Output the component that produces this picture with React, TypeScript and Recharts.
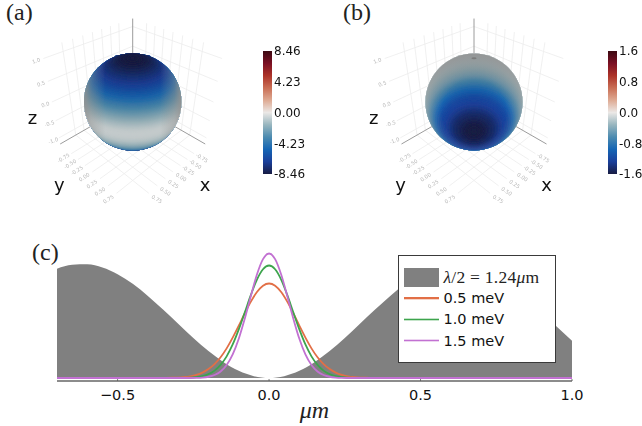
import React from 'react';
import { ComposedChart, Area, Line, Scatter, XAxis, YAxis, ReferenceLine, ReferenceArea, Legend, Label } from 'recharts';

// ---- panel (c) data
const trapX = [-0.7,-0.65,-0.6,-0.55,-0.5,-0.45,-0.4,-0.35,-0.3,-0.25,-0.2,-0.15,-0.1,-0.05,0,0.05,0.1,0.15,0.2,0.25,0.3,0.35,0.4,0.45,0.5,0.55,0.6,0.65,0.7,0.75,0.8,0.85,0.9,0.95,1.0];
const trapY = [0.959,0.994,0.997,0.969,0.91,0.826,0.72,0.6,0.475,0.35,0.236,0.138,0.063,0.016,0,0.016,0.063,0.138,0.236,0.35,0.475,0.6,0.72,0.826,0.91,0.969,0.997,0.994,0.959,0.895,0.806,0.697,0.576,0.449,0.326];
const peakX = [-0.7,-0.36,-0.34,-0.32,-0.3,-0.28,-0.26,-0.24,-0.22,-0.2,-0.18,-0.16,-0.14,-0.12,-0.1,-0.08,-0.06,-0.04,-0.02,0,0.02,0.04,0.06,0.08,0.1,0.12,0.14,0.16,0.18,0.2,0.22,0.24,0.26,0.28,0.3,0.32,0.34,0.36,1.0];
const orange05 = [0,0,0.001,0.002,0.004,0.008,0.015,0.027,0.047,0.078,0.122,0.182,0.26,0.354,0.459,0.568,0.67,0.754,0.81,0.829,0.81,0.754,0.67,0.568,0.459,0.354,0.26,0.182,0.122,0.078,0.047,0.027,0.015,0.008,0.004,0.002,0.001,0,0];
const green10 = [0,0,0,0,0,0.001,0.003,0.008,0.017,0.034,0.065,0.115,0.19,0.294,0.426,0.576,0.729,0.863,0.954,0.987,0.954,0.863,0.729,0.576,0.426,0.294,0.19,0.115,0.065,0.034,0.017,0.008,0.003,0.001,0,0,0,0,0];
const purple15 = [0,0,0,0,0,0,0,0.001,0.004,0.011,0.026,0.057,0.114,0.207,0.344,0.522,0.72,0.908,1.043,1.092,1.043,0.908,0.72,0.522,0.344,0.207,0.114,0.057,0.026,0.011,0.004,0.001,0,0,0,0,0,0,0];
const xTicks = [-0.5, 0, 0.5, 1];
const xTickLabels = ['\u22120.5', '0.0', '0.5', '1.0'];
const seriesNames = ['0.5 meV', '1.0 meV', '1.5 meV'];
const seriesColors = ['#e26f46', '#3da44d', '#c271d2'];

// ---- spheres: field read by angle (every 4 degrees) from the band centre
const fieldA = [-8.46,-8.46,-8.46,-8.42,-8.33,-8.21,-8.00,-7.75,-7.50,-7.22,-6.94,-6.64,-6.26,-5.84,-5.37,-4.86,-4.36,-3.89,-3.38,-2.92,-2.45,-1.99,-1.57,-1.18,-0.85,-0.59,-0.51,-0.51,-0.59,-0.76,-1.02,-1.35,-1.78,-2.28,-2.88,-3.55,-4.23,-5.08,-5.92,-6.60,-7.19,-7.61,-7.87,-8.04,-8.21,-8.29];
const fieldB = [-1.60,-1.60,-1.60,-1.58,-1.54,-1.50,-1.46,-1.39,-1.33,-1.28,-1.23,-1.17,-1.07,-0.96,-0.85,-0.74,-0.64,-0.54,-0.46,-0.40,-0.34,-0.29,-0.25,-0.22,-0.19,-0.18,-0.16,-0.14,-0.13,-0.12,-0.12,-0.11,-0.11,-0.11,-0.10,-0.10,-0.10,-0.10,-0.10,-0.10,-0.10,-0.10,-0.10,-0.10,-0.10,-0.10];
const barTicksA = [8.46, 4.23, 0, -4.23, -8.46];
const barTicksB = [1.6, 0.8, 0, -0.8, -1.6];
const gridTicks = [-0.75, -0.5, -0.25, 0, 0.25, 0.5, 0.75];
const zTicks = [-1, -0.5, 0, 0.5, 1];

// colour scale (cmocean balance-like)
const cmap = ['#181c43','#1a3f9a','#1565b4','#4c8bb0','#98b6bf','#ebe8e6','#deaa93','#c96e55','#ac3228','#7a0f23','#3c0912'];

const hexToRgb = (h: string) => [1, 3, 5].map((i) => parseInt(h.slice(i, i + 2), 16));
const colorOf = (t: number) => {
  const p = Math.max(0, Math.min(1, t)) * (cmap.length - 1);
  const i = Math.min(cmap.length - 2, Math.floor(p));
  const a = hexToRgb(cmap[i]);
  const b = hexToRgb(cmap[i + 1]);
  const f = p - i;
  return `rgb(${a.map((v, k) => Math.round(v + (b[k] - v) * f)).join(',')})`;
};

// ---- 3D scene
const L = 1.19;
const D = 6;
const elev = (35 * Math.PI) / 180;
const PX = 48;
const project = (x: number, y: number, z: number) => {
  const u = (y - x) / Math.SQRT2;
  const d = (x + y) / Math.SQRT2;
  const v = z * Math.cos(elev) - d * Math.sin(elev);
  const w = z * Math.sin(elev) + d * Math.cos(elev);
  const f = D / (D - w);
  return { x: u * f, y: v * f };
};
type P3 = [number, number, number];
const gridSegments: [P3, P3][] = [
  ...gridTicks.map((t) => [[t, -L, -L], [t, L, -L]] as [P3, P3]),
  ...gridTicks.map((t) => [[-L, t, -L], [L, t, -L]] as [P3, P3]),
  ...gridTicks.map((t) => [[t, -L, -L], [t, -L, L]] as [P3, P3]),
  ...gridTicks.map((t) => [[-L, t, -L], [-L, t, L]] as [P3, P3]),
  ...zTicks.map((z) => [[-L, -L, z], [L, -L, z]] as [P3, P3]),
  ...zTicks.map((z) => [[-L, -L, z], [-L, L, z]] as [P3, P3]),
];
const spineSegments: [P3, P3][] = [
  [[-L, -L, -L], [-L, -L, L]],
  [[-L, -L, -L], [L, -L, -L]],
  [[-L, -L, -L], [-L, L, -L]],
];
const fmtTick = (t: number, digits: number) => t.toFixed(digits);
const tickLabels = [
  ...gridTicks.map((t) => ({ ...project(L + 0.2, t, -L), text: fmtTick(t, 2), rot: -32 })),
  ...gridTicks.map((t) => ({ ...project(t, L + 0.2, -L), text: fmtTick(t, 2), rot: 32 })),
  ...zTicks.map((z) => ({ ...project(L + 0.15, -L, z), text: fmtTick(z, 1), rot: -18 })),
];

// cap of the sphere around axis n, as a polygon on the unit disc
const capPolygon = (theta: number, nv: number, nw: number): [number, number][] => {
  const c = Math.cos(theta);
  const s = Math.sin(theta);
  const pt = (phi: number): [number, number] => [s * Math.cos(phi), c * nv + s * Math.sin(phi) * nw];
  const wOf = (phi: number) => c * nw - s * Math.sin(phi) * nv;
  const circle: [number, number][] = [];
  for (let i = 0; i < 72; i++) circle.push([1.02 * Math.cos((i * Math.PI) / 36), 1.02 * Math.sin((i * Math.PI) / 36)]);
  const full: [number, number][] = [];
  let allVisible = true;
  let anyVisible = false;
  for (let i = 0; i < 72; i++) {
    const phi = (i * Math.PI) / 36;
    full.push(pt(phi));
    if (wOf(phi) > 0) anyVisible = true;
    else allVisible = false;
  }
  if (allVisible) return full;
  if (!anyVisible) return nw > c ? circle : [];
  const phi0 = nv > 0 ? -Math.PI / 2 : Math.PI / 2;
  const ratio = (-c * nw) / (s * Math.abs(nv));
  const delta = Math.acos(Math.max(-1, Math.min(1, ratio)));
  const poly: [number, number][] = [];
  for (let i = 0; i <= 48; i++) poly.push(pt(phi0 - delta + (2 * delta * i) / 48));
  const wrap = (a: number) => Math.atan2(Math.sin(a), Math.cos(a));
  const top = nv > 0 ? Math.PI / 2 : -Math.PI / 2;
  const e = poly[poly.length - 1];
  const b = poly[0];
  const da = wrap(Math.atan2(e[1], e[0]) - top);
  const db = wrap(Math.atan2(b[1], b[0]) - top);
  for (let i = 1; i < 48; i++) {
    const a = top + da + ((db - da) * i) / 48;
    poly.push([1.06 * Math.cos(a), 1.06 * Math.sin(a)]);
  }
  return poly;
};

const ringShape = (id: string, R: number, nv: number, nw: number, vmax: number) => (props: any) => {
  const { cx, cy, payload } = props;
  const poly = capPolygon(payload.theta, nv, nw);
  if (!poly.length) return <g />;
  const d = poly.map((p) => `${(cx + p[0] * R).toFixed(2)},${(cy - p[1] * R).toFixed(2)}`).join(' ');
  return (
    <g clipPath={`url(#disc${id})`}>
      <polygon points={d} fill={colorOf((payload.value / vmax + 1) / 2)} stroke="none" filter={`url(#soft${id})`} />
    </g>
  );
};

const textShape = (props: any) => {
  const { cx, cy, payload } = props;
  return (
    <text x={cx} y={cy} textAnchor="middle" dominantBaseline="middle" fontSize={5.2} fontFamily="DejaVu Sans" fill="#b8b8b8"
      transform={`rotate(${payload.rot} ${cx} ${cy})`}>{payload.text}</text>
  );
};
const letterShape = (props: any) => {
  const { cx, cy, payload } = props;
  return <text x={cx} y={cy} textAnchor="middle" dominantBaseline="middle" fontSize={18} fontFamily="DejaVu Sans" fill="#111">{payload.text}</text>;
};

const letters = [
  { text: 'x', x: 1.51, y: -1.75 },
  { text: 'y', x: -1.53, y: -1.75 },
  { text: 'z', x: -2.09, y: -0.36 },
];

type PanelProps = { id: string; left: number; cxPx: number; R: number; field: number[]; vmax: number; nv: number; nw: number; topShade: number; veil: number; sideRim: boolean; showPole: boolean };
const CH_W = 250;
const CH_H = 205;
const CY = 102;

const Sphere3D = ({ id, left, cxPx, R, field, vmax, nv, nw, topShade, veil, sideRim, showPole }: PanelProps) => {
  const rings = field
    .map((value, i) => ({ x: 0, y: 0, value, theta: (Math.min(i * 4 + 2, 179.8) * Math.PI) / 180 }))
    .reverse();
  const centre = [{ x: 0, y: 0 }];
  const pole = [{ x: 0, y: 0.9 * (R / PX) }];
  return (
    <div style={{ position: 'absolute', left, top: 0, filter: 'blur(0.35px)' }}>
      <ComposedChart width={CH_W} height={CH_H} margin={{ top: 0, right: 0, bottom: 0, left: 0 }} data={centre}>
        <defs>
          {sideRim ? (
            <linearGradient id={`rim${id}`} x1="0" y1="0" x2="1" y2="0">
              <stop offset="0" stopColor="#8e8e8e" stopOpacity={0.85} />
              <stop offset="0.07" stopColor="#8e8e8e" stopOpacity={0.42} />
              <stop offset="0.22" stopColor="#8e8e8e" stopOpacity={0} />
              <stop offset="0.78" stopColor="#8e8e8e" stopOpacity={0} />
              <stop offset="0.93" stopColor="#8e8e8e" stopOpacity={0.42} />
              <stop offset="1" stopColor="#8e8e8e" stopOpacity={0.85} />
            </linearGradient>
          ) : (
            <radialGradient id={`rim${id}`} cx="50%" cy="60%" r="60%">
              <stop offset="0.55" stopColor="#8e8e8e" stopOpacity={0} />
              <stop offset="0.85" stopColor="#8e8e8e" stopOpacity={0.42} />
              <stop offset="1" stopColor="#8e8e8e" stopOpacity={0.72} />
            </radialGradient>
          )}
          <linearGradient id={`top${id}`} x1="0" y1="0" x2="0" y2="1">
            <stop offset="0" stopColor="#000" stopOpacity={topShade + veil} />
            <stop offset="0.55" stopColor="#000" stopOpacity={veil} />
            <stop offset="1" stopColor="#000" stopOpacity={veil} />
          </linearGradient>
          <filter id={`soft${id}`} filterUnits="userSpaceOnUse" x={0} y={0} width={CH_W} height={CH_H}>
            <feGaussianBlur stdDeviation={1.5} />
          </filter>
        </defs>
        <XAxis hide type="number" dataKey="x" domain={[-cxPx / PX, (CH_W - cxPx) / PX]} allowDataOverflow />
        <YAxis hide type="number" dataKey="y" domain={[(CY - CH_H) / PX, CY / PX]} allowDataOverflow width={0} />
        {gridSegments.map((s, i) => {
          const a = project(...s[0]);
          const b = project(...s[1]);
          return <ReferenceLine key={`g${i}`} segment={[a, b]} stroke="#ececec" strokeWidth={0.8} ifOverflow="visible" />;
        })}
        {spineSegments.map((s, i) => {
          const a = project(...s[0]);
          const b = project(...s[1]);
          return <ReferenceLine key={`s${i}`} segment={[a, b]} stroke="#9c9c9c" strokeWidth={1} ifOverflow="visible" />;
        })}
        <Scatter data={tickLabels} shape={textShape} isAnimationActive={false} />
        <Scatter data={letters} shape={letterShape} isAnimationActive={false} />
        <Scatter data={centre} isAnimationActive={false}
          shape={(p: any) => <clipPath id={`disc${id}`}><circle cx={p.cx} cy={p.cy} r={R} /></clipPath>} />
        <Scatter data={rings} shape={ringShape(id, R, nv, nw, vmax)} isAnimationActive={false} />
        <Scatter data={centre} isAnimationActive={false}
          shape={(p: any) => <circle cx={p.cx} cy={p.cy} r={R} fill={`url(#top${id})`} />} />
        <Scatter data={centre} isAnimationActive={false}
          shape={(p: any) => <circle cx={p.cx} cy={p.cy} r={R} fill={`url(#rim${id})`} />} />
        {showPole && (
          <Scatter data={pole} isAnimationActive={false}
            shape={(p: any) => <ellipse cx={p.cx} cy={p.cy} rx={2.6} ry={1} fill="#7c7c7c" />} />
        )}
      </ComposedChart>
    </div>
  );
};

const ColorBar = ({ id, left, ticks, digits, vmax }: { id: string; left: number; ticks: number[]; digits: number; vmax: number }) => (
  <div style={{ position: 'absolute', left, top: 40, filter: 'blur(0.3px)' }}>
    <ComposedChart width={62} height={145} margin={{ top: 11, right: 0, bottom: 11, left: 0 }} data={[{ x: 0 }, { x: 1 }]}>
      <defs>
        <linearGradient id={`cb${id}`} x1="0" y1="1" x2="0" y2="0">
          {cmap.map((c, i) => <stop key={c} offset={i / (cmap.length - 1)} stopColor={c} />)}
        </linearGradient>
      </defs>
      <XAxis hide type="number" dataKey="x" domain={[0, 1]} allowDataOverflow />
      <YAxis orientation="right" width={53} type="number" domain={[-vmax, vmax]} allowDataOverflow ticks={ticks} interval={0}
        axisLine={false} tickLine={false} tickSize={0} tickMargin={2}
        tick={{ fontSize: 12, fontFamily: 'DejaVu Sans', fill: '#111', textAnchor: 'start' }}
        tickFormatter={(v: number) => v.toFixed(digits)} />
      <ReferenceArea x1={0} x2={1} y1={-vmax} y2={vmax} fill={`url(#cb${id})`} fillOpacity={1} stroke="none" ifOverflow="visible" />
    </ComposedChart>
  </div>
);

const LegendBox = () => {
  const row = (name: string, color: string, y: number) => (
    <div key={name} style={{ position: 'absolute', left: 0, top: y, height: 20, width: 157 }}>
      <div style={{ position: 'absolute', left: 5, top: 8.5, width: 35, height: 3, background: color, opacity: 0.3 }} />
      <div style={{ position: 'absolute', left: 5, top: 9.4, width: 35, height: 1.2, background: color }} />
      <span style={{ position: 'absolute', left: 45, top: 1, fontSize: 14.5, lineHeight: '18px', fontFamily: 'DejaVu Sans', color: '#111', whiteSpace: 'nowrap' }}>{name}</span>
    </div>
  );
  return (
    <div style={{ position: 'relative', boxSizing: 'border-box', width: 158, height: 108, background: '#fff', border: '1.3px solid #3a3a3a' }}>
      <div style={{ position: 'absolute', left: 5, top: 12, width: 35, height: 19, background: '#808080' }} />
      <span style={{ position: 'absolute', left: 45, top: 11, fontFamily: 'Liberation Serif', fontSize: 17.5, letterSpacing: 0.25, lineHeight: '20px', color: '#222', whiteSpace: 'nowrap' }}>
        <i>λ</i>/2 = 1.24<i>μ</i>m
      </span>
      {seriesNames.map((n, i) => row(n, seriesColors[i], 32.5 + i * 21.3))}
    </div>
  );
};

const panelLabel = (text: string, left: number, top: number) => (
  <span style={{ position: 'absolute', left, top, fontFamily: 'Liberation Serif', fontSize: 24, lineHeight: '24px', color: '#222' }}>{text}</span>
);

const toRows = (xs: number[], ys: number[]) => xs.map((x, i) => ({ x, y: ys[i] }));

export default function App() {
  return (
    <div style={{ position: 'fixed', left: 0, top: 0, width: 642, height: 426, background: '#fff', overflow: 'hidden' }}>
      <Sphere3D id="a" left={0} cxPx={132.7} R={48.7} field={fieldA} vmax={8.46} nv={0.9} nw={0.436} topShade={0} veil={0.07} sideRim showPole={false} />
      <Sphere3D id="b" left={340} cxPx={134} R={48.5} field={fieldB} vmax={1.6} nv={-0.61} nw={0.79} topShade={0.2} veil={0} sideRim={false} showPole />
      <ColorBar id="a" left={262.5} ticks={barTicksA} digits={2} vmax={8.46} />
      <ColorBar id="b" left={607.5} ticks={barTicksB} digits={1} vmax={1.6} />
      {panelLabel('(a)', 6, 0)}
      {panelLabel('(b)', 343, 0)}
      {panelLabel('(c)', 32, 240)}
      <div style={{ position: 'absolute', left: 0, top: 250 }}>
        <ComposedChart width={642} height={176} margin={{ top: 0, right: 70, bottom: 0, left: 57 }}>
          <XAxis type="number" dataKey="x" domain={[-0.7, 1]} allowDataOverflow ticks={xTicks} interval={0} height={45}
            tickLine={false} tickMargin={3}
            axisLine={{ stroke: '#666', strokeWidth: 1.5 }}
            tick={{ fontSize: 14.5, fontFamily: 'DejaVu Sans', fill: '#111' }}
            tickFormatter={(v: number) => xTickLabels[xTicks.indexOf(v)]}>
            <Label value="μm" position="insideBottom" offset={8} style={{ fontSize: 24, fontStyle: 'italic', fontFamily: 'Liberation Serif', fill: '#222' }} />
          </XAxis>
          <YAxis hide type="number" domain={[-0.0263, 1.1228]} allowDataOverflow width={0} />
          <Area data={toRows(trapX, trapY)} dataKey="y" type="monotone" baseValue={0} fill="#808080" fillOpacity={1} stroke="none" isAnimationActive={false} legendType="none" />
          <Line data={toRows(peakX, orange05)} dataKey="y" type="monotone" stroke={seriesColors[0]} strokeWidth={1.8} dot={false} isAnimationActive={false} />
          <Line data={toRows(peakX, green10)} dataKey="y" type="monotone" stroke={seriesColors[1]} strokeWidth={1.8} dot={false} isAnimationActive={false} />
          <Line data={toRows(peakX, purple15)} dataKey="y" type="monotone" stroke={seriesColors[2]} strokeWidth={1.8} dot={false} isAnimationActive={false} />
          {xTicks.map((t) => (
            <ReferenceLine key={t} segment={[{ x: t, y: -0.0263 }, { x: t, y: -0.011 }]} stroke="#555" strokeWidth={1} ifOverflow="visible" />
          ))}
          <Legend layout="vertical" align="center" verticalAlign="middle" content={() => <LegendBox />}
            wrapperStyle={{ position: 'absolute', left: 397.5, top: 4.5, width: 158, margin: 0 }} />
        </ComposedChart>
      </div>
    </div>
  );
}
